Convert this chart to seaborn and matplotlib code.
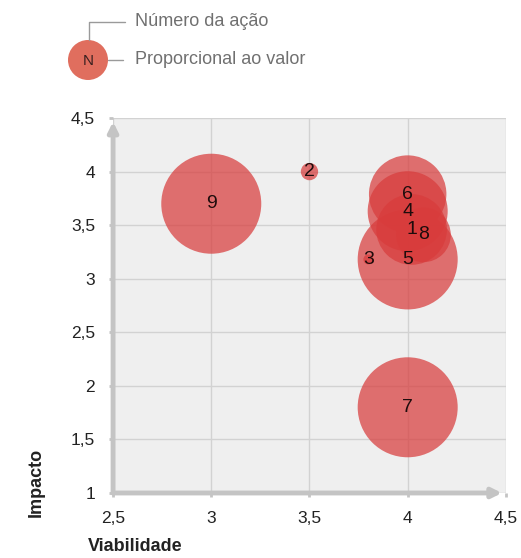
import matplotlib
matplotlib.use("Agg")
import pandas as pd
import seaborn as sns
import matplotlib.pyplot as plt
from matplotlib.patches import Circle

# dados do gráfico
acoes = ["1", "2", "3", "4", "5", "6", "7", "8", "9"]
viabilidade = [4.02, 3.5, 3.8, 4.0, 4.0, 4.0, 4.0, 4.08, 3.0]
impacto = [3.46, 4.0, 3.18, 3.63, 3.18, 3.79, 1.8, 3.41, 3.7]
valor = [50, 3, 1, 64, 100, 60, 100, 30, 100]

x_ticks = [2.5, 3, 3.5, 4, 4.5]
y_ticks = [1, 1.5, 2, 2.5, 3, 3.5, 4, 4.5]

sns.set_theme(style="white")
plt.rcParams["font.family"] = ["Liberation Sans", "DejaVu Sans"]

df = pd.DataFrame({"acao": acoes, "viabilidade": viabilidade,
                   "impacto": impacto, "valor": valor})

fig = plt.figure(figsize=(5.21, 5.58), dpi=100, facecolor="white")
ax = fig.add_axes([0.217, 0.1165, 0.754, 0.672])
ax.set_facecolor("#efefef")

sns.scatterplot(data=df, x="viabilidade", y="impacto", size="valor",
                sizes=(0, 5184), size_norm=(0, 100), color="#d83c3c",
                alpha=0.72, linewidth=0, legend=False, ax=ax, zorder=3)

for a, xv, yv in zip(acoes, viabilidade, impacto):
    ax.text(xv, yv, a, ha="center", va="center", fontsize=14,
            color="#1e0c0c", zorder=4)

ax.set_xlim(2.5, 4.5)
ax.set_ylim(1, 4.5)
ax.set_xticks(x_ticks)
ax.set_yticks(y_ticks)
fmt = lambda v: ("%g" % v).replace(".", ",")
ax.set_xticklabels([fmt(v) for v in x_ticks], fontsize=12.5, color="#222222")
ax.set_yticklabels([fmt(v) for v in y_ticks], fontsize=12.5, color="#222222")
ax.grid(True, color="#d2d2d2", lw=1)
ax.set_axisbelow(True)
ax.tick_params(axis="both", length=3, width=2, color="#c4c4c4", pad=10,
               left=True, bottom=True)
for s in ax.spines.values():
    s.set_visible(False)
ax.set_xlabel("")
ax.set_ylabel("")

# eixos com setas
arrow = dict(arrowstyle="-|>", color="#c4c4c4", lw=3.5, mutation_scale=14,
             shrinkA=0, shrinkB=0)
ax.annotate("", xy=(0.99, 0), xytext=(0, 0), xycoords="axes fraction",
            arrowprops=arrow, annotation_clip=False)
ax.annotate("", xy=(0, 0.99), xytext=(0, 0), xycoords="axes fraction",
            arrowprops=arrow, annotation_clip=False)

fig.text(0.069, 0.136, "Impacto", rotation=90, ha="center", va="center",
         fontsize=13, fontweight="bold", color="#222222")
fig.text(0.259, 0.02, "Viabilidade", ha="center", va="center",
         fontsize=13, fontweight="bold", color="#222222")

# legenda explicativa
lax = fig.add_axes([0, 1 - 90 / 558, 1, 90 / 558])
lax.set_xlim(0, 521)
lax.set_ylim(90, 0)
lax.axis("off")
lax.add_patch(Circle((88, 60), 20, color="#e06e5e", lw=0))
lax.text(88, 61, "N", ha="center", va="center", fontsize=11, color="#3a2020")
lax.plot([89, 89, 125], [40, 22, 22], color="#9a9a9a", lw=1)
lax.plot([108, 123], [60, 60], color="#9a9a9a", lw=1)
lax.text(135, 21, "Número da ação", ha="left", va="center", fontsize=13,
         color="#707070")
lax.text(135, 60, "Proporcional ao valor", ha="left", va="center",
         fontsize=13, color="#707070")

fig.savefig("out.png", dpi=100)
